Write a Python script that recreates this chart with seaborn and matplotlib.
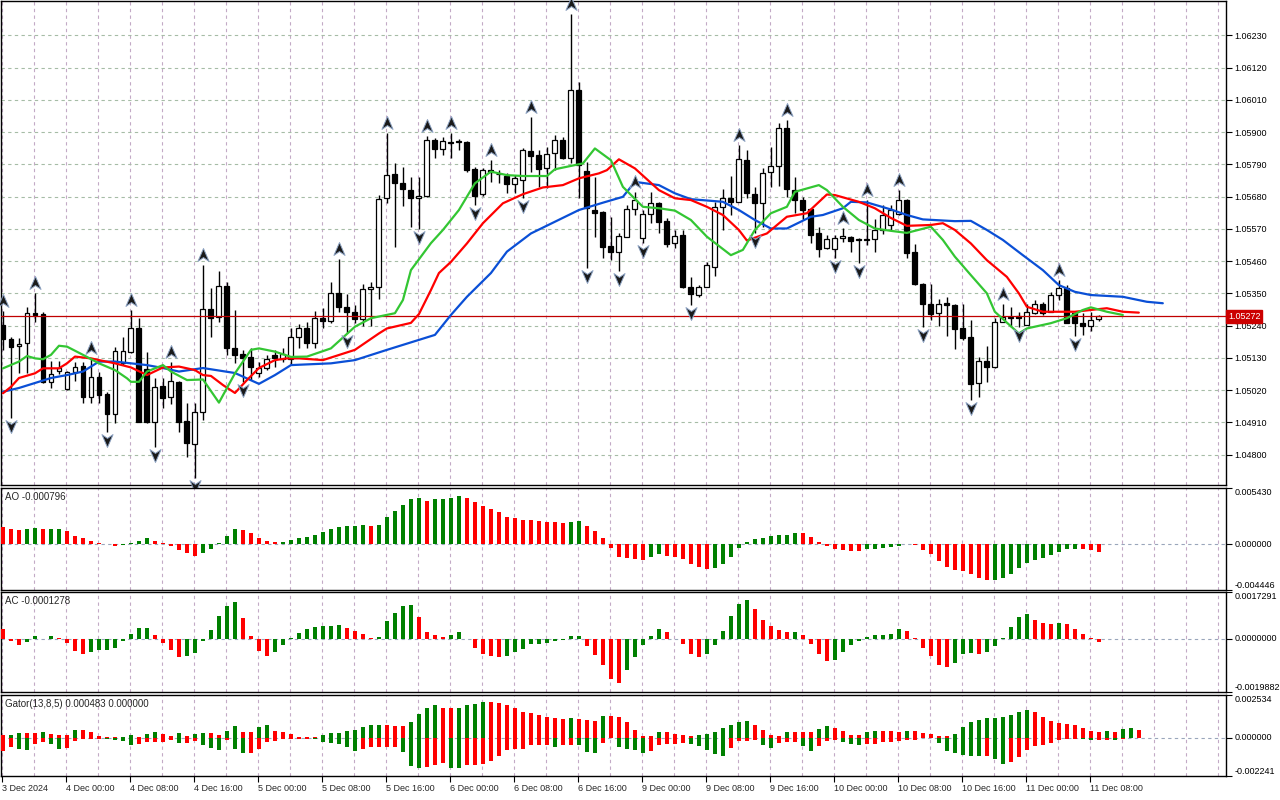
import numpy as np
import pandas as pd
import matplotlib
matplotlib.use("Agg")
import matplotlib.pyplot as plt
import seaborn as sns
from matplotlib.path import Path
from matplotlib import transforms

sns.set_theme(style="white")
plt.rcParams['font.family'] = ['Liberation Sans', 'DejaVu Sans']
plt.rcParams['axes.unicode_minus'] = False

# ---------------- data (EURUSD H1) ----------------
opens = [1.05242,1.05194,1.05170,1.05180,1.05283,1.05279,1.05047,1.05085,1.05024,1.05082,
         1.05102,1.04996,1.05065,1.05006,1.04938,1.05113,1.05150,1.05232,1.05092,1.04911,
         1.05034,1.04996,1.05047,1.04914,1.04836,1.04945,1.05296,1.05269,1.05375,1.05163,
         1.05143,1.05133,1.05079,1.05096,1.05140,1.05126,1.05126,1.05201,1.05232,1.05180,
         1.05266,1.05255,1.05351,1.05303,1.05286,1.05262,1.05364,1.05371,1.05675,1.05757,
         1.05726,1.05702,1.05675,1.05682,1.05873,1.05842,1.05866,1.05868,1.05866,1.05774,
         1.05688,1.05771,1.05757,1.05750,1.05723,1.05736,1.05835,1.05821,1.05777,1.05828,
         1.05873,1.05811,1.06043,1.05767,1.05634,1.05627,1.05511,1.05491,1.05542,1.05637,
         1.05538,1.05620,1.05658,1.05596,1.05521,1.05549,1.05371,1.05344,1.05371,1.05440,
         1.05644,1.05675,1.05661,1.05804,1.05688,1.05658,1.05764,1.05784,1.05914,1.05702,
         1.05668,1.05637,1.05555,1.05504,1.05501,1.05538,1.05542,1.05535,1.05533,1.05535,
         1.05566,1.05583,1.05620,1.05668,1.05491,1.05382,1.05313,1.05283,1.05317,1.05310,
         1.05232,1.05201,1.05044,1.05119,1.05099,1.05252,1.05269,1.05271,1.05242,1.05283,
         1.05313,1.05286,1.05344,1.05368,1.05283,1.05249,1.05238,1.05262]
highs = [1.05289,1.05201,1.05197,1.05303,1.05351,1.05286,1.05119,1.05119,1.05085,1.05116,
         1.05116,1.05130,1.05082,1.05013,1.05167,1.05201,1.05293,1.05266,1.05150,1.05061,
         1.05061,1.05116,1.05051,1.04976,1.04976,1.05447,1.05368,1.05426,1.05388,1.05293,
         1.05157,1.05163,1.05116,1.05140,1.05157,1.05163,1.05232,1.05245,1.05252,1.05289,
         1.05300,1.05388,1.05468,1.05347,1.05310,1.05382,1.05388,1.05685,1.05897,1.05795,
         1.05781,1.05747,1.05747,1.05887,1.05880,1.05883,1.05897,1.05876,1.05869,1.05781,
         1.05777,1.05804,1.05771,1.05760,1.05753,1.05845,1.05951,1.05839,1.05849,1.05890,
         1.05883,1.06302,1.06070,1.05798,1.05746,1.05631,1.05610,1.05555,1.05651,1.05695,
         1.05634,1.05695,1.05661,1.05607,1.05566,1.05566,1.05405,1.05378,1.05457,1.05661,
         1.05705,1.05750,1.05856,1.05839,1.05712,1.05777,1.05849,1.05931,1.05941,1.05746,
         1.05678,1.05641,1.05576,1.05549,1.05549,1.05573,1.05545,1.05538,1.05668,1.05603,
         1.05651,1.05651,1.05702,1.05671,1.05518,1.05385,1.05382,1.05330,1.05337,1.05313,
         1.05313,1.05259,1.05133,1.05170,1.05266,1.05313,1.05303,1.05286,1.05313,1.05327,
         1.05320,1.05354,1.05395,1.05378,1.05286,1.05283,1.05286,1.05276]
lows = [1.05157,1.04925,1.05079,1.05079,1.05252,1.05044,1.05027,1.05075,1.05020,1.05051,
        1.04976,1.04976,1.04976,1.04877,1.04908,1.05106,1.05147,1.04911,1.04908,1.04826,
        1.04959,1.04972,1.04877,1.04792,1.04720,1.04918,1.05201,1.05252,1.05140,1.05113,
        1.05047,1.05054,1.05065,1.05089,1.05099,1.05116,1.05106,1.05163,1.05163,1.05163,
        1.05232,1.05249,1.05286,1.05214,1.05249,1.05238,1.05238,1.05330,1.05658,1.05508,
        1.05648,1.05576,1.05569,1.05678,1.05811,1.05821,1.05811,1.05839,1.05764,1.05651,
        1.05682,1.05729,1.05726,1.05692,1.05692,1.05675,1.05764,1.05712,1.05709,1.05771,
        1.05808,1.05794,1.05675,1.05436,1.05542,1.05470,1.05463,1.05425,1.05542,1.05617,
        1.05521,1.05590,1.05555,1.05508,1.05504,1.05368,1.05310,1.05337,1.05371,1.05409,
        1.05566,1.05617,1.05661,1.05675,1.05555,1.05576,1.05712,1.05716,1.05678,1.05624,
        1.05600,1.05521,1.05474,1.05501,1.05470,1.05525,1.05491,1.05453,1.05515,1.05491,
        1.05552,1.05566,1.05617,1.05470,1.05378,1.05235,1.05259,1.05238,1.05204,1.05160,
        1.05190,1.04986,1.04996,1.05047,1.05096,1.05252,1.05235,1.05235,1.05242,1.05279,
        1.05276,1.05286,1.05327,1.05249,1.05204,1.05207,1.05221,1.05255]
closes = [1.05194,1.05167,1.05177,1.05283,1.05276,1.05047,1.05075,1.05096,1.05082,1.05099,
          1.04996,1.05065,1.05003,1.04938,1.05153,1.05153,1.05232,1.04911,1.04911,1.05030,
          1.04993,1.05051,1.04911,1.04840,1.04945,1.05296,1.05266,1.05375,1.05163,1.05140,
          1.05130,1.05099,1.05096,1.05126,1.05130,1.05143,1.05201,1.05232,1.05180,1.05266,
          1.05255,1.05351,1.05303,1.05286,1.05262,1.05364,1.05371,1.05671,1.05754,1.05726,
          1.05705,1.05675,1.05682,1.05873,1.05842,1.05869,1.05864,1.05867,1.05771,1.05682,
          1.05771,1.05764,1.05756,1.05723,1.05743,1.05839,1.05818,1.05774,1.05825,1.05873,
          1.05811,1.06043,1.05787,1.05641,1.05624,1.05508,1.05491,1.05545,1.05637,1.05668,
          1.05620,1.05658,1.05593,1.05518,1.05545,1.05371,1.05347,1.05371,1.05447,1.05644,
          1.05675,1.05661,1.05808,1.05692,1.05658,1.05760,1.05784,1.05914,1.05705,1.05668,
          1.05634,1.05549,1.05501,1.05535,1.05538,1.05545,1.05528,1.05533,1.05535,1.05566,
          1.05617,1.05634,1.05668,1.05487,1.05382,1.05313,1.05279,1.05313,1.05310,1.05228,
          1.05197,1.05041,1.05119,1.05099,1.05252,1.05269,1.05266,1.05267,1.05286,1.05313,
          1.05283,1.05344,1.05368,1.05249,1.05249,1.05238,1.05259,1.05272]

fractal_up = [0, 4, 11, 16, 21, 25, 42, 48, 53, 56, 61, 66, 71, 79, 92, 98, 105, 108, 112, 125, 132]
fractal_down = [1, 13, 19, 24, 30, 43, 52, 59, 65, 73, 77, 80, 86, 94, 104, 107, 115, 121, 127, 134]

# Alligator (bar index incl. forward shift, price)
jaw_x = [0,2,4,6,8,10,12,14,16,18,20,22,25,29,32,34,36,41,44,48,52,54,56,58,61,63,66,69,72,75,
         77.5,79,82,84,86,90,92,94,96,98,101,102.5,105,106,108,111,113,115,119,121,123,125,127.5,
         130,132,134,136,140,143,145]
jaw = [1.05014,1.05027,1.05044,1.05061,1.05071,1.05083,1.05117,1.05117,1.05111,1.05105,
       1.05095,1.05083,1.05095,1.05078,1.05041,1.05071,1.05105,1.05111,1.05122,1.05157,
       1.05191,1.05208,1.05276,1.05338,1.05419,1.05492,1.05554,1.05594,1.05634,1.05659,
       1.05679,1.05730,1.05719,1.05691,1.05671,1.05662,1.05634,1.05600,1.05571,1.05571,
       1.05611,1.05617,1.05640,1.05662,1.05660,1.05636,1.05617,1.05602,1.05596,1.05597,
       1.05566,1.05532,1.05480,1.05429,1.05378,1.05355,1.05344,1.05338,1.05321,1.05316]
teeth_x = [0,1,2,4,5,7,8,9,11,12,14,16,18,20,22,24,25,26,27.5,29,30.5,32,34,35.5,37,40,44,47,48,
           51,52,53.5,54.5,56,58,60,62.5,65,67.5,70,72,74.5,75.5,77,79,82,84,86,88,90,92,93,95.5,
           98,100.5,103,104,107,109,111,113,116,117.5,119,121,123,125.5,127,128,130,132,134,136,
           138,140,142]
teeth = [1.05009,1.05031,1.05061,1.05077,1.05094,1.05094,1.05111,1.05134,1.05128,1.05122,
         1.05111,1.05097,1.05071,1.05097,1.05100,1.05088,1.05071,1.05068,1.05037,1.05010,
         1.05054,1.05095,1.05122,1.05128,1.05128,1.05122,1.05157,1.05213,1.05230,1.05249,
         1.05279,1.05361,1.05419,1.05457,1.05520,1.05589,1.05657,1.05688,1.05711,1.05719,
         1.05742,1.05759,1.05770,1.05807,1.05776,1.05702,1.05674,1.05668,1.05645,1.05617,
         1.05566,1.05530,1.05554,1.05611,1.05623,1.05687,1.05685,1.05662,1.05640,1.05607,
         1.05580,1.05583,1.05589,1.05566,1.05520,1.05463,1.05406,1.05350,1.05304,1.05287,
         1.05287,1.05287,1.05293,1.05299,1.05287,1.05284]
lips_x = [0,2,3,4,5,6,7,8,10,12,14,15.5,16,17,18,20,21,23,25,27,29,31,32,34,36,38,41,44,46,49,
          50,51,53.5,55,57,59,61,63,65,68,69,72.5,74,76,77.5,80,82,84,86,88,91,92.5,94,96,98,99,
          102,103,105,107,109,111,113,116,117.5,119,121,123,124,127,128,131,133,135,136,138,140]
lips = [1.05094,1.05117,1.05136,1.05128,1.05125,1.05140,1.05171,1.05168,1.05140,1.05111,
        1.05088,1.05060,1.05048,1.05048,1.05083,1.05105,1.05083,1.05054,1.05056,1.04977,
        1.05077,1.05157,1.05162,1.05151,1.05133,1.05134,1.05162,1.05236,1.05265,1.05282,
        1.05327,1.05429,1.05521,1.05566,1.05634,1.05725,1.05765,1.05753,1.05750,1.05750,
        1.05773,1.05793,1.05844,1.05804,1.05713,1.05645,1.05640,1.05632,1.05600,1.05543,
        1.05480,1.05498,1.05566,1.05623,1.05645,1.05696,1.05719,1.05702,1.05645,1.05600,
        1.05571,1.05563,1.05556,1.05577,1.05532,1.05475,1.05412,1.05350,1.05287,1.05213,
        1.05230,1.05248,1.05265,1.05293,1.05302,1.05287,1.05276]

# Awesome Oscillator (x1e-5)
ao_e5 = [167,142,132,142,158,142,148,150,122,80,55,32,13,3,-23,-13,13,32,55,32,
         13,-23,-61,-90,-113,-90,-52,6,80,148,138,109,61,32,23,24,35,55,71,90,
         119,142,164,177,179,181,179,182,264,316,380,438,448,419,438,441,448,467,448,409,
         370,341,306,264,254,238,235,222,216,209,206,216,225,177,129,61,-42,-129,-138,-148,
         -150,-129,-100,-113,-129,-148,-196,-225,-245,-235,-196,-129,-42,23,52,61,80,90,92,109,
         108,71,23,-23,-52,-61,-63,-64,-52,-50,-42,-32,-19,-3,-13,-61,-100,-167,-225,-254,
         -264,-293,-332,-351,-348,-332,-293,-235,-187,-158,-138,-109,-80,-52,-50,-52,-61,-79.6]
# Accelerator Oscillator (x1e-5)
ac_e5 = [34.7,-7.4,-22.3,-12.4,8.7,-1.2,8.7,3.7,-16.1,-45.9,-57.0,-49.6,-42.2,-41.5,-34.7,-8.7,16.1,38.4,39.1,12.4,
         -16.1,-42.2,-68.2,-64.5,-52.1,-8.7,31.0,83.1,120.3,135.2,75.6,8.7,-45.9,-64.5,-49.6,-23.6,1.2,21.1,34.7,42.2,
         45.9,46.5,49.6,38.4,27.3,16.1,1.2,5.0,64.5,94.2,120.3,124.0,79.4,23.6,12.4,5.0,12.4,23.6,-1.2,-34.7,
         -57.0,-64.5,-68.2,-64.5,-49.6,-38.4,-19.8,-18.6,-16.1,-8.1,-6.2,8.7,9.3,-27.3,-60.8,-99.2,-151.3,-164.9,-117.8,-68.2,
         -23.6,8.7,34.7,23.6,-1.2,-19.8,-57.0,-68.2,-57.0,-23.6,27.3,83.1,127.7,142.6,109.1,68.2,45.9,31.0,23.6,24.2,
         12.4,-19.8,-57.0,-83.1,-79.4,-49.6,-23.6,-8.7,5.0,12.4,13.0,16.1,34.7,27.3,3.7,-34.7,-64.5,-98.0,-105.4,-90.5,
         -57.0,-53.3,-57.0,-49.6,-27.3,1.2,42.2,79.4,90.5,68.2,57.0,55.8,57.0,53.3,34.7,16.1,0.6,-12.78]
# Gator oscillator (x1e-5), upper and lower (absolute) histograms
gator_up_e5 = [17,18,30,30,30,36,23,17,17,45,45,36,11,4,4,6,17,6,25,36,
               25,11,30,13,25,30,30,17,43,68,36,36,62,74,43,38,21,6,4,4,
               17,28,32,42,47,62,75,79,75,70,70,94,142,175,192,179,175,179,194,200,
               213,213,204,194,175,151,145,136,126,119,113,119,113,108,100,132,132,126,94,47,
               11,11,36,36,23,17,11,17,23,36,57,75,94,98,75,45,17,11,36,36,
               36,36,51,70,57,42,17,17,36,42,42,42,36,42,42,28,23,11,9,23,
               62,92,108,115,119,123,136,151,164,155,123,100,89,85,75,57,43,38,40,36,
               51,57,48.3]
gator_dn_e5 = [75,53,62,68,38,23,38,66,57,15,4,4,4,6,9,19,43,38,25,25,
               25,9,30,30,15,42,57,70,9,62,89,89,62,25,19,6,6,4,4,6,
               23,32,38,51,75,66,51,51,51,51,85,164,179,170,160,147,174,175,162,157,
               151,136,104,72,66,62,43,42,42,53,42,42,43,85,87,32,0,53,66,72,
               89,75,43,38,38,30,38,49,68,94,106,57,19,15,9,42,60,28,25,25,
               47,75,47,19,9,25,38,42,38,38,25,25,19,13,9,2,2,30,75,89,
               102,108,109,109,123,151,142,113,70,47,42,32,13,4,4,6,13,9,9,13,6]

price_ticks = [1.04800,1.04910,1.05020,1.05130,1.05240,1.05350,1.05460,1.05570,
               1.05680,1.05790,1.05900,1.06010,1.06120,1.06230]
current_price = 1.05272
time_labels = ["3 Dec 2024","4 Dec 00:00","4 Dec 08:00","4 Dec 16:00","5 Dec 00:00",
               "5 Dec 08:00","5 Dec 16:00","6 Dec 00:00","6 Dec 08:00","6 Dec 16:00",
               "9 Dec 00:00","9 Dec 08:00","9 Dec 16:00","10 Dec 00:00","10 Dec 08:00",
               "10 Dec 16:00","11 Dec 00:00","11 Dec 08:00"]
ao_ticks = [-0.004446, 0.0, 0.005430]
ao_tick_labels = ["-0.004446", "0.000000", "0.005430"]
ac_ticks = [-0.0019882, 0.0, 0.0017291]
ac_tick_labels = ["-0.0019882", "0.0000000", "0.0017291"]
g_ticks = [-0.002241, 0.0, 0.002534]
g_tick_labels = ["-0.002241", "0.000000", "0.002534"]

# ---------------- figure ----------------
W, H = 1280, 800
fig = plt.figure(figsize=(12.8, 8), dpi=100)
fig.patch.set_facecolor('white')

def rect(x0, yt, x1, yb):
    return [x0 / W, 1 - yb / H, (x1 - x0) / W, (yb - yt) / H]

ax = fig.add_axes(rect(1, 1, 1226, 485))
ax_ao = fig.add_axes(rect(1, 488, 1226, 590))
ax_ac = fig.add_axes(rect(1, 592, 1226, 692))
ax_g = fig.add_axes(rect(1, 695, 1226, 776))
axes = [ax, ax_ao, ax_ac, ax_g]

XMIN, XMAX = -0.25, 152.9
FS = 7
TFS = 6.5
GRID_V = '#c3aac6'
GRID_H = '#a6bca6'
ZERO_C = '#9aa6bb'
GREEN = '#008000'
RED = '#ff0000'

for a in axes:
    a.set_facecolor('white')
    a.set_xlim(XMIN, XMAX)
    for s in a.spines.values():
        s.set_color('black')
        s.set_linewidth(1.0)
        s.set_visible(True)
    for k in range(0, 39):
        a.axvline(4 * k - 0.12, color=GRID_V, lw=0.8, ls=(0, (3, 3)), zorder=0)
    a.yaxis.tick_right()
    a.tick_params(axis='y', which='both', right=True, left=False, length=4, width=0.8,
                  color='black', labelsize=TFS, pad=2, labelcolor='black', direction='out')
    a.tick_params(axis='x', which='both', bottom=False, labelbottom=False)

# ---- main price chart ----
idx = np.arange(len(opens))
o = np.array(opens); h = np.array(highs); l = np.array(lows); c = np.array(closes)
ax.set_ylim(1.04696, 1.06347)
ax.set_yticks(price_ticks, [f"{t:.5f}" for t in price_ticks])
for t in price_ticks:
    ax.axhline(t, color=GRID_H, lw=0.8, ls=(0, (3, 3)), zorder=0)

ax.vlines(idx, l, h, color='black', lw=1.0, zorder=2)
bull = c >= o
body_bottom = np.minimum(o, c)
body_h = np.abs(c - o)
ax.bar(idx[bull], body_h[bull], bottom=body_bottom[bull], width=0.62,
       facecolor='white', edgecolor='black', linewidth=0.9, zorder=3)
ax.bar(idx[~bull], body_h[~bull], bottom=body_bottom[~bull], width=0.62,
       facecolor='black', edgecolor='black', linewidth=0.9, zorder=3)

ax.axhline(current_price, color='#c00000', lw=0.9, zorder=4)

line_df = pd.concat([
    pd.DataFrame({'bar': jaw_x, 'price': jaw, 'line': 'Jaw'}),
    pd.DataFrame({'bar': teeth_x, 'price': teeth, 'line': 'Teeth'}),
    pd.DataFrame({'bar': lips_x, 'price': lips, 'line': 'Lips'}),
])
sns.lineplot(data=line_df, x='bar', y='price', hue='line',
             palette={'Jaw': '#0a4fd6', 'Teeth': '#ff0000', 'Lips': '#33c633'},
             linewidth=1.6, estimator=None, sort=True, legend=False, ax=ax, zorder=5)
ax.set_xlabel(''); ax.set_ylabel('')
ax.set_xlim(XMIN, XMAX)

verts = [(0, 1.0), (0.8, -0.85), (0, -0.3), (-0.8, -0.85), (0, 1.0)]
codes = [Path.MOVETO, Path.LINETO, Path.LINETO, Path.LINETO, Path.CLOSEPOLY]
up_marker = Path(verts, codes)
down_marker = Path([(x, -y) for x, y in verts], codes)
up_tr = transforms.offset_copy(ax.transData, fig=fig, x=0, y=10, units='dots')
dn_tr = transforms.offset_copy(ax.transData, fig=fig, x=0, y=-8, units='dots')
fu = np.array(fractal_up); fd = np.array(fractal_down)
ax.plot(fu, h[fu], ls='none', marker=up_marker, ms=10, mfc='#1a1a1a', mec='#8aa0c0',
        mew=0.7, transform=up_tr, zorder=6, clip_on=False)
ax.plot(fd, l[fd], ls='none', marker=down_marker, ms=10, mfc='#1a1a1a', mec='#8aa0c0',
        mew=0.7, transform=dn_tr, zorder=6, clip_on=False)

ax.text(1.0 + 2 / 1225, current_price, f"{current_price:.5f}", transform=ax.get_yaxis_transform(),
        ha='left', va='center', fontsize=TFS, color='white', clip_on=False, zorder=10,
        bbox=dict(boxstyle='square,pad=0.22', fc='#cc0000', ec='#cc0000'))

# ---- oscillators ----
def colors_from(vals, first):
    cols = [first]
    for i in range(1, len(vals)):
        cols.append(GREEN if vals[i] > vals[i - 1] else RED)
    return cols

def sub_ticks(a, ticks, labels):
    a.set_yticks(ticks, labels)
    vas = ['bottom', 'center', 'top']
    for lab, va in zip(a.get_yticklabels(), vas):
        lab.set_verticalalignment(va)

ao = np.array(ao_e5) * 1e-5
ax_ao.bar(np.arange(len(ao)), ao, width=0.55, color=colors_from(ao, RED), linewidth=0, zorder=3)
ax_ao.set_ylim(ao_ticks[0], ao_ticks[-1])
ax_ao.axhline(0, color=ZERO_C, lw=0.8, ls=(0, (3, 3)), zorder=1)
sub_ticks(ax_ao, ao_ticks, ao_tick_labels)
ax_ao.text(4 / 1225, 0.915, "AO -0.000796", transform=ax_ao.transAxes, ha='left', va='center', fontsize=FS)

ac = np.array(ac_e5) * 1e-5
ax_ac.bar(np.arange(len(ac)), ac, width=0.55, color=colors_from(ac, RED), linewidth=0, zorder=3)
ax_ac.set_ylim(ac_ticks[0], ac_ticks[-1])
ax_ac.axhline(0, color=ZERO_C, lw=0.8, ls=(0, (3, 3)), zorder=1)
sub_ticks(ax_ac, ac_ticks, ac_tick_labels)
ax_ac.text(4 / 1225, 0.915, "AC -0.0001278", transform=ax_ac.transAxes, ha='left', va='center', fontsize=FS)

gu = np.array(gator_up_e5) * 1e-5
gd = np.array(gator_dn_e5) * 1e-5
ax_g.bar(np.arange(len(gu)), gu, width=0.55, color=colors_from(gu, RED), linewidth=0, zorder=3)
ax_g.bar(np.arange(len(gd)), -gd, width=0.55, color=colors_from(gd, RED), linewidth=0, zorder=3)
ax_g.set_ylim(g_ticks[0], g_ticks[-1])
ax_g.axhline(0, color=ZERO_C, lw=0.8, ls=(0, (3, 3)), zorder=1)
sub_ticks(ax_g, g_ticks, g_tick_labels)
ax_g.text(4 / 1225, 0.885, "Gator(13,8,5) 0.000483 0.000000", transform=ax_g.transAxes,
          ha='left', va='center', fontsize=FS)

tick_pos = [8 * k - 0.12 for k in range(len(time_labels))]
ax_g.set_xticks(tick_pos, time_labels)
ax_g.tick_params(axis='x', bottom=True, labelbottom=True, length=4, width=0.8, color='black',
                 labelsize=TFS, pad=2, direction='out')
for lab in ax_g.get_xticklabels():
    lab.set_horizontalalignment('left')

for a in axes:
    a.set_xlim(XMIN, XMAX)

fig.savefig("out.png", dpi=100, facecolor='white')
